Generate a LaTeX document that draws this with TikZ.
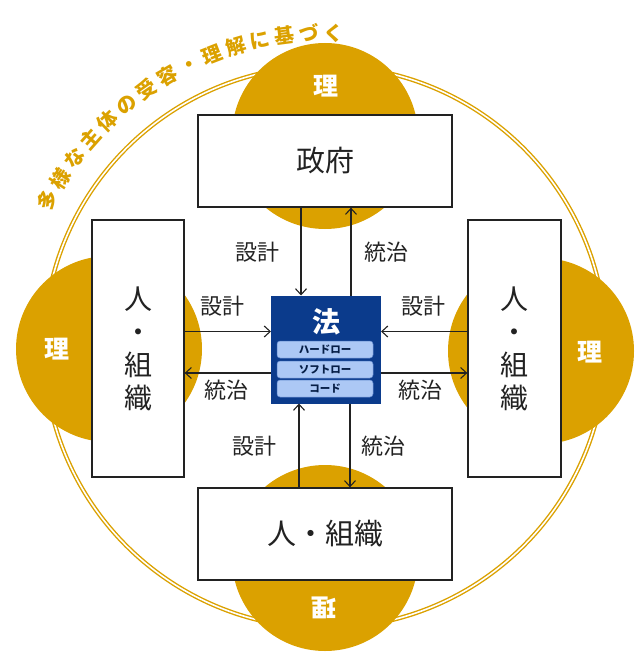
\documentclass[tikz,border=0pt]{standalone}
\usepackage{fontspec}
\setmainfont{Noto Sans CJK JP}
\usetikzlibrary{arrows.meta,decorations.text}
\definecolor{gold}{RGB}{219,161,0}
\definecolor{navy}{RGB}{11,59,140}
\definecolor{lblue}{RGB}{172,200,245}
\definecolor{lborder}{RGB}{95,135,205}
\definecolor{ink}{RGB}{34,34,34}
\begin{document}
\begin{tikzpicture}[x=1pt,y=-1pt,
  box/.style={draw=ink, line width=1.3pt, fill=white, inner sep=0pt, text=ink},
  conn/.style={draw=ink, line width=1.1pt, -{Straight Barb[length=6pt,width=11pt,line width=1.1pt]}},
  lbl/.style={font=\fontsize{22}{24}\selectfont, text=ink, inner sep=0pt},
  ri/.style={font=\bfseries\fontsize{25}{25}\selectfont, text=white, inner sep=0pt},
  subbox/.style={draw=lborder, line width=0.5pt, fill=lblue, rounded corners=3pt,
    minimum width=96pt, minimum height=17pt, inner sep=0pt,
    font=\bfseries\fontsize{10.5}{11}\selectfont, text=navy!50!black}]
\useasboundingbox (0,0) rectangle (637,652);

% outer double ring
\coordinate (ctr) at (325,347);
\draw[gold, line width=1.4pt, double=white, double distance=1.6pt] (ctr) circle[radius=281pt];

% small gold circles
\fill[gold] (325,136) circle[radius=93pt];
\fill[gold] (325,558) circle[radius=93pt];
\fill[gold] (109,349) circle[radius=93pt];
\fill[gold] (541,351) circle[radius=93pt];

% arc text
\path[decorate, decoration={text along path, text align={fit to path},
  text={|\bfseries\fontsize{20}{20}\selectfont\color{gold}|多様な主体の受容・理解に基づく}}]
  (ctr) ++(154:306pt) arc[start angle=154, end angle=86.5, radius=306pt];

% boxes
\node[box, minimum width=254pt, minimum height=92pt, font=\fontsize{29}{33}\selectfont] (gov) at (325,161) {政府};
\node[box, minimum width=254pt, minimum height=92pt, font=\fontsize{29}{33}\selectfont] (bbox) at (325,534) {人・組織};
\node[box, minimum width=92pt, minimum height=257pt, align=center, font=\fontsize{28}{33}\selectfont] (lbox) at (138,348.5) {人\\・\\組\\織};
\node[box, minimum width=93pt, minimum height=257pt, align=center, font=\fontsize{28}{33}\selectfont] (rbox) at (514.5,348.5) {人\\・\\組\\織};

% law box
\node[draw=navy, fill=navy, line width=1pt, minimum width=109pt, minimum height=107pt, inner sep=0pt] (law) at (326,349.5) {};
\node[font=\bfseries\fontsize{28}{28}\selectfont, text=white, inner sep=0pt] (hou) at (326,322) {法};
\node[subbox] (hard) at (325,349.5) {ハードロー};
\node[subbox] (soft) at (325,369.5) {ソフトロー};
\node[subbox] (code) at (325,388.5) {コード};

% ri labels
\node[ri] (riT) at (326,86) {理};
\node[ri] (riL) at (57,349) {理};
\node[ri] (riR) at (590,352) {理};
\node[ri, rotate=180] (riB) at (324,608) {理};

% connectors
\draw[conn] ([xshift=-24pt]gov.south) -- ([xshift=-24pt]gov.south |- law.north);
\draw[conn] ([xshift=26pt]gov.south |- law.north) -- ([xshift=26pt]gov.south);
\draw[conn] ([yshift=17pt]lbox.east) -- ([yshift=17pt]lbox.east -| law.west);
\draw[conn] ([yshift=-24.5pt]lbox.east -| law.west) -- ([yshift=-24.5pt]lbox.east);
\draw[conn] ([yshift=17pt]rbox.west) -- ([yshift=17pt]rbox.west -| law.east);
\draw[conn] ([yshift=-24.5pt]rbox.west -| law.east) -- ([yshift=-24.5pt]rbox.west);
\draw[conn] ([xshift=-26pt]bbox.north) -- ([xshift=-26pt]bbox.north |- law.south);
\draw[conn] ([xshift=25pt]bbox.north |- law.south) -- ([xshift=25pt]bbox.north);

% connector labels
\node[lbl] (l1) at (257,252) {設計};
\node[lbl] (l2) at (386,252) {統治};
\node[lbl] (l3) at (222,306) {設計};
\node[lbl] (l4) at (423,306) {設計};
\node[lbl] (l5) at (226,390) {統治};
\node[lbl] (l6) at (420,390) {統治};
\node[lbl] (l7) at (254,446) {設計};
\node[lbl] (l8) at (383,446) {統治};
\end{tikzpicture}
\end{document}
